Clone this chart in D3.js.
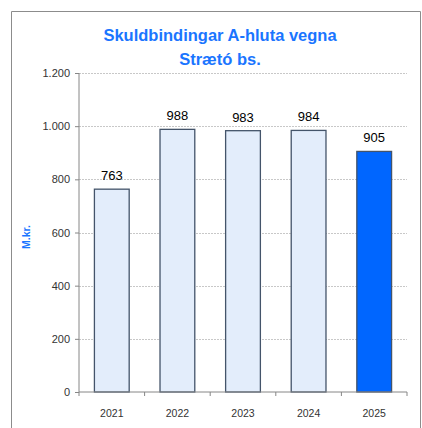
<!DOCTYPE html>
<html>
<head>
<meta charset="utf-8">
<script src="https://cdn.jsdelivr.net/npm/d3@7"></script>
<style>
body { margin: 0; background: #fff; }
text { font-family: "Liberation Sans", Arial, sans-serif; }
</style>
</head>
<body>
<div id="chart"></div>
<script>
const years = ["2021", "2022", "2023", "2024", "2025"];
const values = [763, 988, 983, 984, 905];
const yTicks = [0, 200, 400, 600, 800, 1000, 1200];
const titleLines = ["Skuldbindingar A-hluta vegna", "Strætó bs."];
const yLabel = "M.kr.";

const width = 422, height = 428;
const plot = {left: 79, right: 407, top: 73, bottom: 392};

const svg = d3.select("#chart").append("svg")
	.attr("width", width)
	.attr("height", height);

// outer frame (bottom runs off the picture)
svg.append("path")
	.attr("d", "M11.5,440 V11.5 H420.5 V440")
	.attr("fill", "none")
	.attr("stroke", "#8c8c8c")
	.attr("stroke-width", 1);

const x = d3.scaleBand().domain(years)
	.range([plot.left, plot.right])
	.paddingInner(0.47).paddingOuter(0.235);
const y = d3.scaleLinear().domain([0, 1200]).range([plot.bottom, plot.top]);

// gridlines
svg.append("g").selectAll("line")
	.data(yTicks.filter(d => d > 0))
	.enter().append("line")
		.attr("x1", plot.left).attr("x2", plot.right)
		.attr("y1", d => Math.round(y(d)) + 0.5).attr("y2", d => Math.round(y(d)) + 0.5)
		.attr("stroke", "#c8c8c8")
		.attr("stroke-dasharray", "2,1");

// bars
svg.append("g").selectAll("rect")
	.data(values)
	.enter().append("rect")
		.attr("x", (d, i) => x(years[i]))
		.attr("y", d => y(d))
		.attr("width", x.bandwidth())
		.attr("height", d => plot.bottom - y(d))
		.attr("fill", (d, i) => i === 4 ? "#0066ff" : "#e3edfb")
		.attr("stroke", "#44546a")
		.attr("stroke-width", 1.3);

// value labels
svg.append("g").selectAll("text")
	.data(values)
	.enter().append("text")
		.attr("x", (d, i) => x(years[i]) + x.bandwidth() / 2)
		.attr("y", d => y(d) - 9)
		.attr("text-anchor", "middle")
		.attr("font-size", 13)
		.attr("fill", "#000")
		.text(d => d);

// y axis
const yAxis = svg.append("g")
	.attr("transform", "translate(" + plot.left + ",0)")
	.call(d3.axisLeft(y).tickValues(yTicks).tickSize(4).tickPadding(5)
		.tickFormat(d => d3.format(",")(d).replace(",", ".")));
yAxis.selectAll("path, line").attr("stroke", "#868686");
yAxis.select(".domain").attr("d", "M0," + plot.bottom + "V" + plot.top);
yAxis.selectAll("text").attr("font-size", 11).attr("fill", "#333")
	.attr("font-family", "Liberation Sans, Arial, sans-serif");

// x axis, ticks at band edges
const xAxis = svg.append("g")
	.attr("transform", "translate(0," + plot.bottom + ")");
xAxis.append("line")
	.attr("x1", plot.left).attr("x2", plot.right)
	.attr("stroke", "#868686");
const edges = years.map(d => x(d) - x.step() * x.paddingInner() / 2).concat([plot.right]);
xAxis.selectAll(".tk").data(edges).enter().append("line")
	.attr("class", "tk")
	.attr("x1", d => d).attr("x2", d => d)
	.attr("y1", 0).attr("y2", 4)
	.attr("stroke", "#868686");
xAxis.selectAll(".lb").data(years).enter().append("text")
	.attr("class", "lb")
	.attr("x", d => x(d) + x.bandwidth() / 2)
	.attr("y", 25)
	.attr("text-anchor", "middle")
	.attr("font-size", 10.5)
	.attr("fill", "#333")
	.text(d => d);

// title
svg.append("g").selectAll("text")
	.data(titleLines)
	.enter().append("text")
		.attr("x", 220)
		.attr("y", (d, i) => 41 + i * 24)
		.attr("text-anchor", "middle")
		.attr("font-size", 16.5)
		.attr("font-weight", "bold")
		.attr("fill", "#1a75ff")
		.text(d => d);

// y axis title
svg.append("text")
	.attr("transform", "translate(30,237) rotate(-90)")
	.attr("text-anchor", "middle")
	.attr("font-size", 10.5)
	.attr("font-weight", "bold")
	.attr("fill", "#1a75ff")
	.text(yLabel);
</script>
</body>
</html>
